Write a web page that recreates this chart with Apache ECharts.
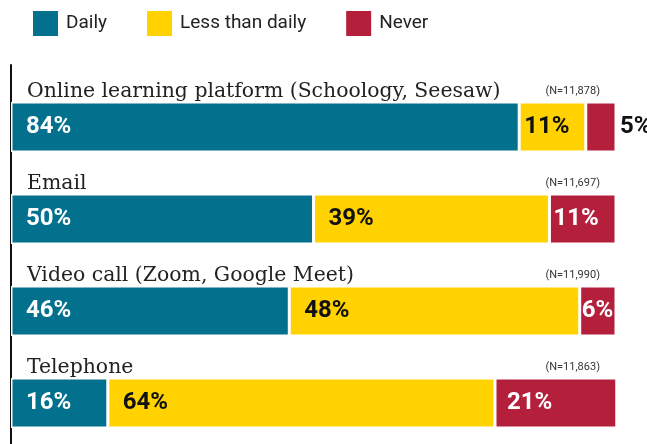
<!DOCTYPE html>
<html>
<head>
<meta charset="utf-8">
<script src="https://cdn.jsdelivr.net/npm/echarts@6/dist/echarts.min.js"></script>
<style>
  html, body { margin: 0; padding: 0; background: #fff; overflow: hidden; }
  #main { width: 647px; height: 450px; }
</style>
</head>
<body>
<div id="main"></div>
<script>
// data
var categories = ['Online learning platform (Schoology, Seesaw)', 'Email', 'Video call (Zoom, Google Meet)', 'Telephone'];
var nLabels = ['(N=11,878)', '(N=11,697)', '(N=11,990)', '(N=11,863)'];
var daily = [84, 50, 46, 16];
var lessThanDaily = [11, 39, 48, 64];
var never = [5, 11, 6, 21];

var numFont = "Roboto, sans-serif";
var serifFont = "'DejaVu Serif', serif";

var myChart = echarts.init(document.getElementById('main'));

function valLabel(color) {
    return {
        show: true,
        position: 'insideLeft',
        distance: 15,
        color: color,
        fontFamily: numFont,
        fontWeight: 'bold',
        fontSize: 24,
        formatter: '{c}%'
    };
}

var yellowData = lessThanDaily.map(function (v, i) {
    if (i === 0) return { value: v, label: { distance: 5 } };
    return v;
});
var neverDist = [4, 4, 2, 12];
var neverData = never.map(function (v, i) {
    if (i === 0) return { value: v, label: { position: 'right', color: '#111', distance: 4 } };
    return { value: v, label: { distance: neverDist[i] } };
});

var option = {
    animation: false,
    legend: {
        left: 26,
        top: 4,
        itemWidth: 27,
        itemHeight: 27,
        itemGap: 38,
        icon: 'rect',
        textStyle: { fontFamily: numFont, fontSize: 19, color: '#222', padding: [0, 0, 0, 2] },
        data: ['Daily', 'Less than daily', 'Never']
    },
    grid: [{
        left: 11,
        right: 31,
        top: 81,
        height: 368
    }, {
        left: 11,
        width: 1,
        top: 65,
        bottom: 0
    }],
    xAxis: [{
        type: 'value',
        min: 0,
        max: 100,
        show: false
    }, {
        type: 'value',
        gridIndex: 1,
        show: false
    }],
    yAxis: [{
        type: 'category',
        inverse: true,
        data: categories,
        axisLine: { show: false },
        axisTick: { show: false },
        axisLabel: {
            inside: true,
            margin: 16,
            align: 'left',
            verticalAlign: 'bottom',
            padding: [0, 0, 25, 0],
            fontFamily: serifFont,
            fontSize: 20.4,
            color: '#222'
        }
    }, {
        type: 'category',
        inverse: true,
        position: 'right',
        data: nLabels,
        axisLine: { show: false },
        axisTick: { show: false },
        axisLabel: {
            inside: true,
            margin: 16,
            align: 'right',
            verticalAlign: 'bottom',
            padding: [0, 0, 30, 0],
            fontFamily: numFont,
            fontSize: 11,
            color: '#333'
        }
    }, {
        type: 'value',
        gridIndex: 1,
        axisLine: { show: true, lineStyle: { color: '#111', width: 2 } },
        axisTick: { show: false },
        axisLabel: { show: false },
        splitLine: { show: false }
    }],
    series: [{
        name: 'Daily',
        type: 'bar',
        stack: 'total',
        barWidth: 50,
        data: daily,
        itemStyle: { color: '#03718d', borderColor: '#fff', borderWidth: 1.5 },
        label: valLabel('#fff')
    }, {
        name: 'Less than daily',
        type: 'bar',
        stack: 'total',
        data: yellowData,
        itemStyle: { color: '#ffd200', borderColor: '#fff', borderWidth: 1.5 },
        label: valLabel('#111')
    }, {
        name: 'Never',
        type: 'bar',
        stack: 'total',
        data: neverData,
        itemStyle: { color: '#b41f3b', borderColor: '#fff', borderWidth: 1.5 },
        label: valLabel('#fff')
    }]
};
myChart.setOption(option);
</script>
</body>
</html>
